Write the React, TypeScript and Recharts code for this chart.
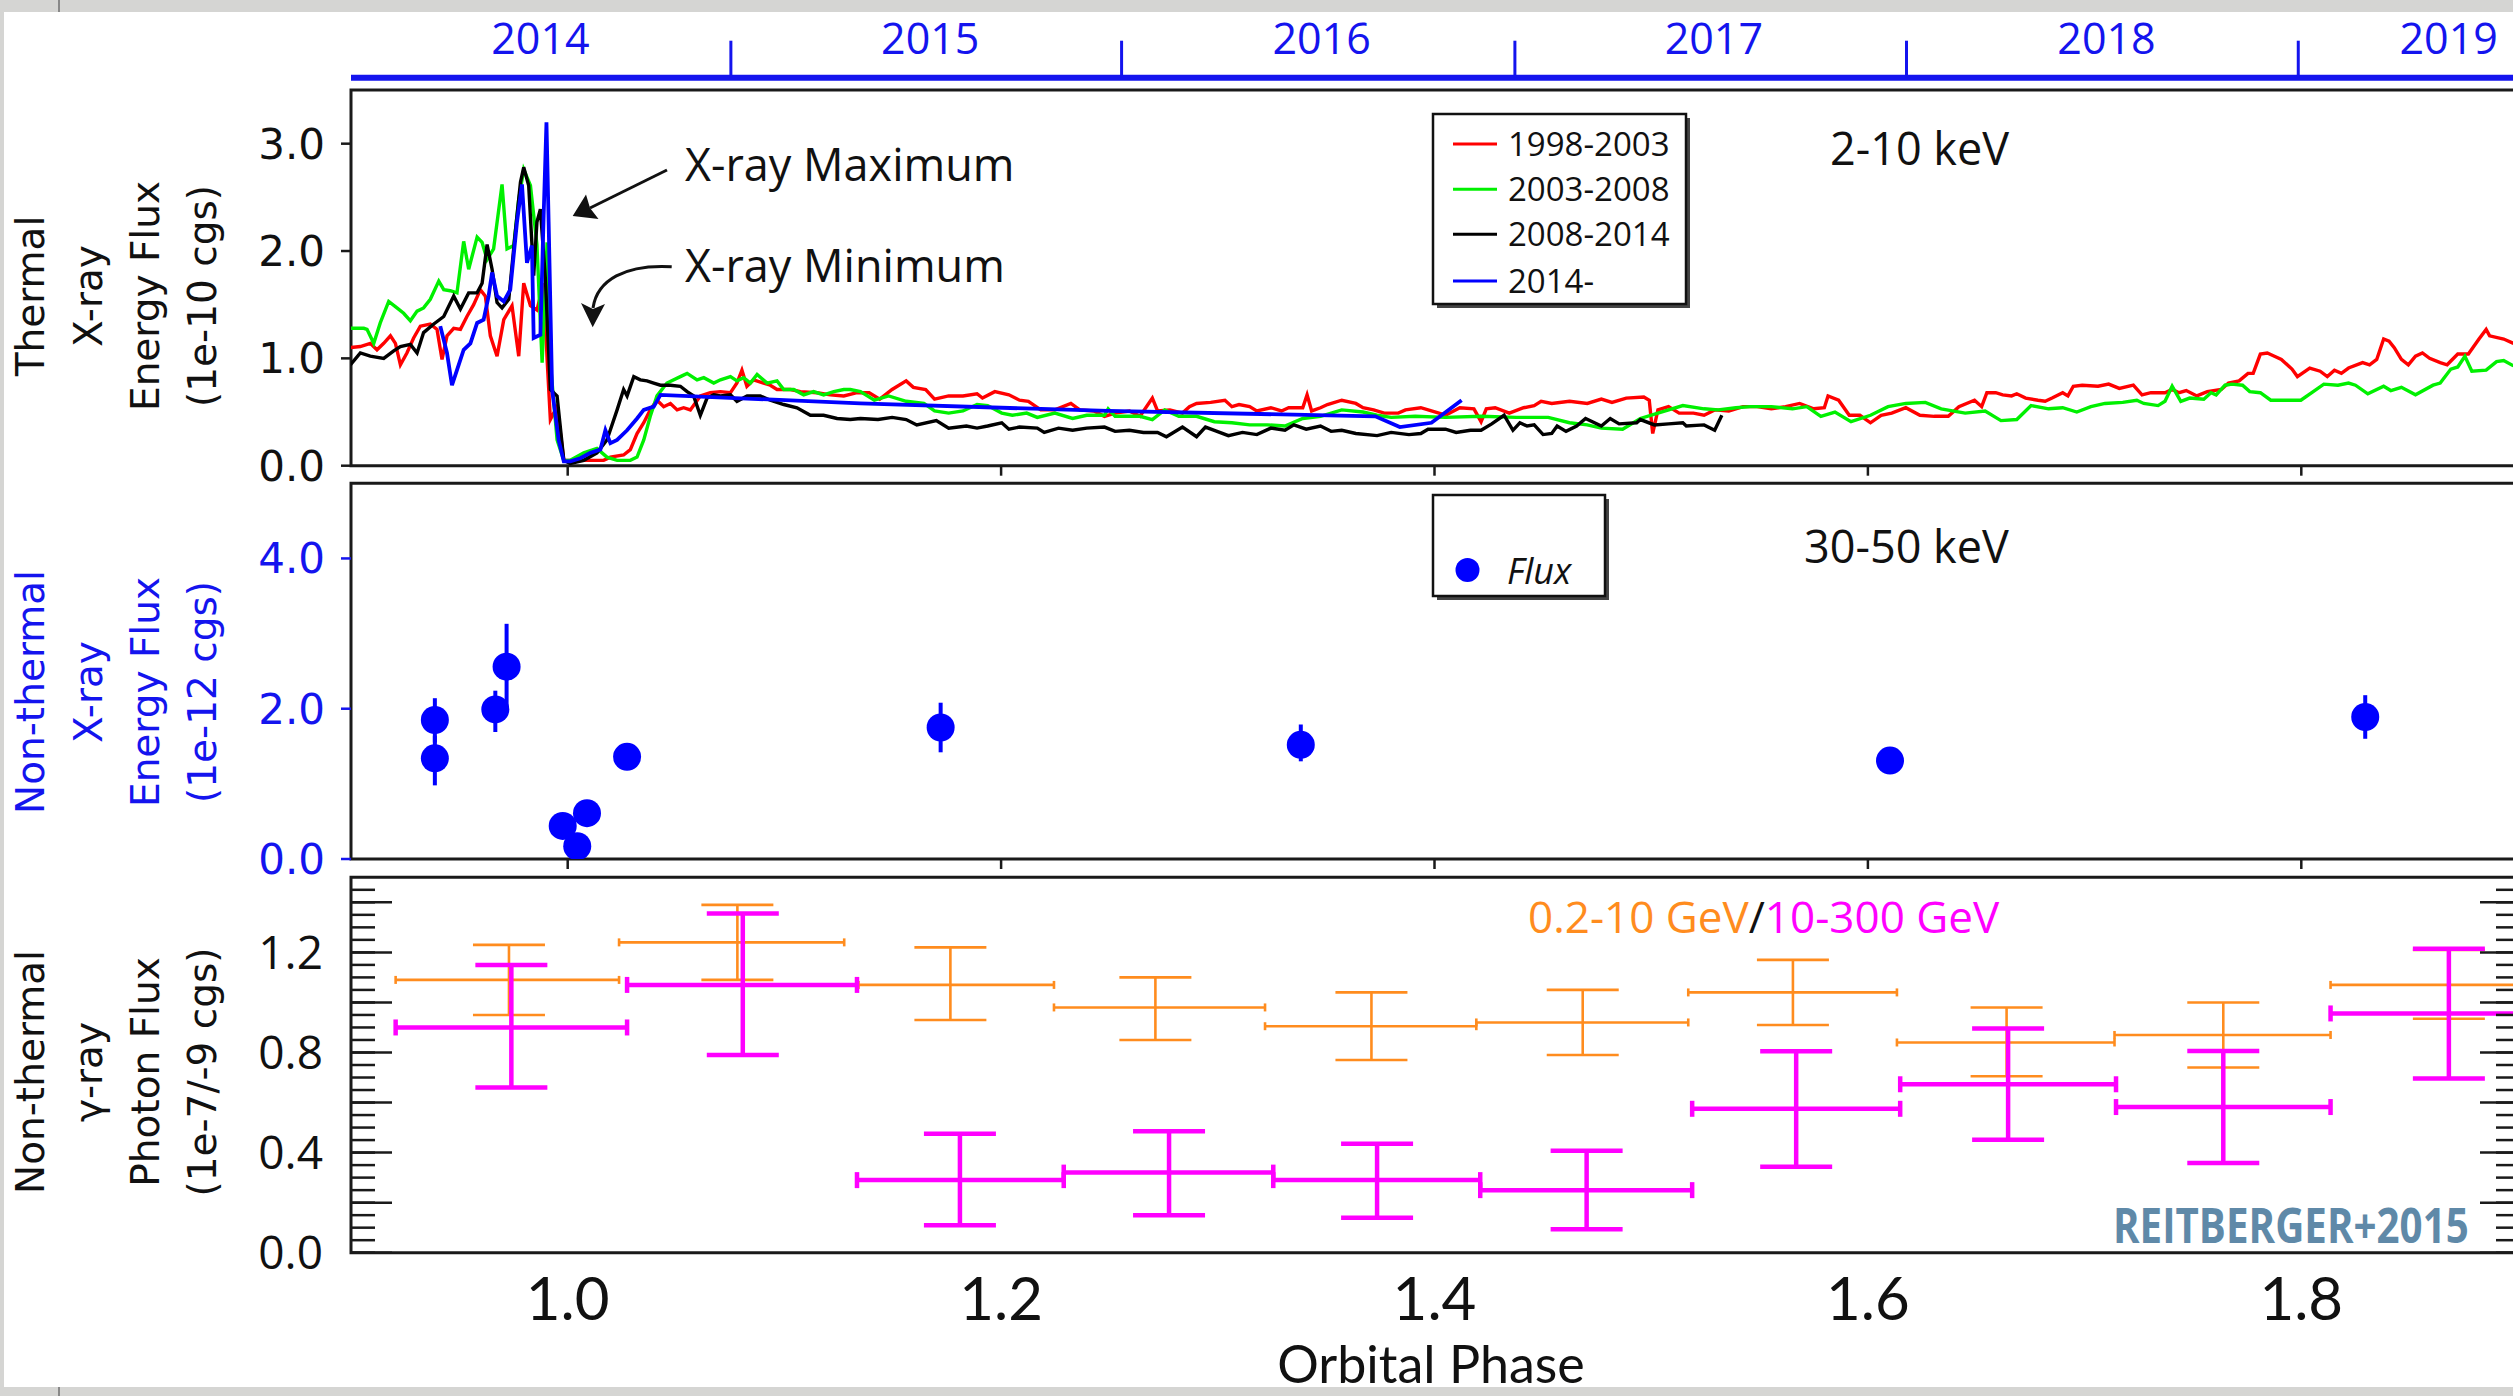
import React from 'react'
import {
  ComposedChart, ScatterChart, Line, Scatter, ErrorBar, XAxis, YAxis, ReferenceArea,
} from 'recharts'

// --- data (x = orbital phase) ---

const phaseDomain: [number, number] = [0.9, 1.9]
const phaseTicks = [1.0, 1.2, 1.4, 1.6, 1.8]
const phaseMinorTicks = [0.95, 1.0, 1.05, 1.1, 1.15, 1.2, 1.25, 1.3, 1.35, 1.4, 1.45, 1.5, 1.55, 1.6, 1.65, 1.7, 1.75, 1.8, 1.85]
const dayTicks = [0.9295, 0.979, 1.0284, 1.0779, 1.1274, 1.1769, 1.2264, 1.2759, 1.3254, 1.3749, 1.4244, 1.4739, 1.5234, 1.5729, 1.6224, 1.6719, 1.7214, 1.7709, 1.8204, 1.8699]
const dayMajorTicks = [1.0779, 1.3254, 1.5729, 1.8204]

const yearEdges = [1.0753, 1.2556, 1.4371, 1.6178, 1.7986]
const yearCenters = [0.9874, 1.1673, 1.3479, 1.5289, 1.7101, 1.868]
const yearNames = ['2014', '2015', '2016', '2017', '2018', '2019']

const thermalTicks = [0, 1, 2, 3]
const hardTicks = [0, 2, 4]
const gammaTicks = [0, 0.4, 0.8, 1.2]
const gammaMinor = [0, 0.05, 0.1, 0.15, 0.2, 0.25, 0.3, 0.35, 0.4, 0.45, 0.5, 0.55, 0.6, 0.65, 0.7, 0.75, 0.8, 0.85, 0.9, 0.95, 1.0, 1.05, 1.1, 1.15, 1.2, 1.25, 1.3, 1.35, 1.4, 1.45]
const gammaMajor = [0, 0.2, 0.4, 0.6, 0.8, 1.0, 1.2, 1.4]

// 2-10 keV flux, 1e-10 cgs: [phase, flux]
const cycle1998: [number, number][] = [
  [0.8997,1.10],[0.9043,1.11],[0.9089,1.14],[0.9120,1.08],[0.9151,1.14],[0.9182,1.21],[0.9205,1.14],[0.9228,0.94],[0.9258,1.05],[0.9289,1.19],[0.9320,1.30],[0.9366,1.32],[0.9397,1.27],[0.9420,0.99],[0.9443,1.21],[0.9474,1.28],[0.9505,1.27],[0.9535,1.39],[0.9566,1.50],[0.9597,1.64],[0.9620,1.58],[0.9643,1.21],[0.9674,1.02],[0.9705,1.36],[0.9743,1.49],[0.9774,1.02],[0.9797,1.70],[0.9828,1.49],[0.9858,1.45],[0.9889,1.70],[0.9905,0.99],[0.9920,0.43],[0.9951,0.55],[0.9982,0.05],[1.0074,0.05],[1.0166,0.05],[1.0197,0.08],[1.0258,0.10],[1.0289,0.15],[1.0320,0.30],[1.0351,0.40],[1.0381,0.52],[1.0412,0.61],[1.0443,0.55],[1.0474,0.58],[1.0505,0.52],[1.0535,0.54],[1.0566,0.52],[1.0612,0.65],[1.0658,0.68],[1.0705,0.69],[1.0751,0.68],[1.0781,0.77],[1.0804,0.89],[1.0827,0.74],[1.0858,0.80],[1.0904,0.77],[1.0935,0.75],[1.0966,0.71],[1.1028,0.71],[1.1074,0.69],[1.1151,0.68],[1.1212,0.66],[1.1274,0.65],[1.1335,0.68],
  [1.1391,0.68],[1.1440,0.62],[1.1497,0.71],[1.1562,0.79],[1.1595,0.73],[1.1652,0.71],[1.1693,0.62],[1.1758,0.65],[1.1824,0.65],[1.1889,0.67],[1.1914,0.63],[1.1971,0.69],[1.2036,0.66],[1.2085,0.61],[1.2126,0.60],[1.2183,0.52],[1.2248,0.52],[1.2322,0.58],[1.2363,0.52],[1.2428,0.51],[1.2477,0.46],[1.2526,0.49],[1.2592,0.51],[1.2641,0.46],[1.2698,0.63],[1.2722,0.51],[1.2779,0.52],[1.2837,0.49],[1.2869,0.55],[1.2902,0.58],[1.2967,0.59],[1.3033,0.61],[1.3065,0.55],[1.3098,0.57],[1.3147,0.55],[1.3180,0.51],[1.3245,0.54],[1.3294,0.51],[1.3327,0.54],[1.3392,0.54],[1.3412,0.66],[1.3433,0.51],[1.3474,0.54],[1.3506,0.57],[1.3572,0.61],[1.3637,0.58],[1.3670,0.54],[1.3719,0.52],[1.3768,0.49],[1.3833,0.49],[1.3866,0.52],
  [1.3937,0.54],[1.3986,0.51],[1.4051,0.47],[1.4117,0.54],[1.4182,0.53],[1.4215,0.41],[1.4239,0.53],[1.4280,0.54],[1.4345,0.49],[1.4411,0.54],[1.4460,0.56],[1.4492,0.60],[1.4541,0.58],[1.4623,0.60],[1.4705,0.58],[1.4770,0.62],[1.4819,0.59],[1.4885,0.63],[1.4966,0.64],[1.4991,0.61],[1.5007,0.30],[1.5031,0.52],[1.5080,0.55],[1.5129,0.49],[1.5195,0.49],[1.5244,0.47],[1.5293,0.52],[1.5358,0.51],[1.5424,0.55],[1.5489,0.55],[1.5554,0.53],[1.5620,0.55],[1.5685,0.58],[1.5750,0.53],[1.5799,0.54],[1.5816,0.65],[1.5865,0.61],[1.5914,0.47],[1.5963,0.47],[1.6012,0.40],[1.6061,0.47],[1.6110,0.49],[1.6175,0.54],[1.6240,0.47],[1.6306,0.46],[1.6371,0.46],[1.6420,0.55],
  [1.6492,0.61],[1.6525,0.55],[1.6549,0.68],[1.6590,0.68],[1.6622,0.66],[1.6663,0.65],[1.6687,0.67],[1.6728,0.63],[1.6785,0.61],[1.6818,0.60],[1.6850,0.63],[1.6899,0.68],[1.6923,0.65],[1.6948,0.74],[1.6989,0.75],[1.7062,0.74],[1.7111,0.76],[1.7160,0.72],[1.7225,0.75],[1.7265,0.66],[1.7306,0.68],[1.7371,0.68],[1.7404,0.71],[1.7436,0.68],[1.7469,0.70],[1.7518,0.65],[1.7566,0.69],[1.7631,0.71],[1.7664,0.77],[1.7713,0.79],[1.7754,0.86],[1.7778,0.86],[1.7811,1.04],[1.7843,1.05],[1.7876,1.02],[1.7908,0.99],[1.7957,0.90],[1.7982,0.83],[1.8039,0.91],[1.8087,0.88],[1.8120,0.83],[1.8153,0.89],[1.8185,0.86],[1.8218,0.91],[1.8283,0.96],[1.8315,0.94],[1.8348,0.99],[1.8380,1.18],[1.8405,1.16],[1.8429,1.10],[1.8462,0.99],[1.8494,0.94],[1.8527,1.02],[1.8559,1.05],[1.8592,1.00],[1.8641,0.96],[1.8673,0.94],[1.8722,1.04],[1.8771,1.04],[1.8820,1.18],[1.8853,1.27],[1.8869,1.21],[1.8934,1.18],[1.8979,1.14],
]

const cycle2003: [number, number][] = [
  [0.8997,1.28],[0.9059,1.28],[0.9074,1.27],[0.9105,1.14],[0.9135,1.33],[0.9174,1.53],[0.9212,1.47],[0.9243,1.42],[0.9274,1.35],[0.9305,1.44],[0.9335,1.47],[0.9366,1.55],[0.9405,1.72],[0.9428,1.64],[0.9458,1.63],[0.9489,1.61],[0.9520,2.09],[0.9543,1.83],[0.9582,2.13],[0.9605,2.08],[0.9628,1.92],[0.9658,2.02],[0.9697,2.62],[0.9720,2.02],[0.9751,2.05],[0.9774,2.48],[0.9797,2.76],[0.9828,2.61],[0.9858,2.06],[0.9882,0.96],[0.9905,2.08],[0.9920,0.96],[0.9951,0.24],[0.9982,0.05],[1.0012,0.05],[1.0074,0.12],[1.0135,0.16],[1.0181,0.08],[1.0228,0.05],[1.0289,0.05],[1.0320,0.08],[1.0351,0.24],[1.0381,0.46],[1.0412,0.65],[1.0458,0.77],[1.0520,0.83],[1.0551,0.86],[1.0597,0.80],[1.0628,0.82],[1.0674,0.77],[1.0705,0.80],[1.0751,0.83],[1.0781,0.79],[1.0812,0.82],[1.0843,0.77],[1.0874,0.85],[1.0920,0.77],[1.0966,0.79],[1.0997,0.71],[1.1043,0.71],[1.1089,0.66],[1.1135,0.69],[1.1181,0.66],[1.1228,0.69],[1.1274,0.71],[1.1304,0.71],[1.1351,0.69],
  [1.1415,0.61],[1.1481,0.65],[1.1562,0.60],[1.1644,0.58],[1.1693,0.51],[1.1758,0.49],[1.1824,0.51],[1.1889,0.57],[1.1938,0.56],[1.2003,0.49],[1.2052,0.47],[1.2118,0.49],[1.2167,0.45],[1.2248,0.49],[1.2330,0.44],[1.2395,0.47],[1.2477,0.47],[1.2494,0.53],[1.2526,0.46],[1.2641,0.46],[1.2698,0.43],[1.2755,0.52],[1.2820,0.46],[1.2902,0.46],[1.2984,0.41],[1.3065,0.40],[1.3147,0.38],[1.3229,0.38],[1.3310,0.37],[1.3392,0.44],[1.3474,0.46],[1.3572,0.52],[1.3670,0.50],[1.3735,0.47],[1.3800,0.45],[1.3911,0.46],
  [1.4051,0.45],[1.4215,0.46],[1.4378,0.45],[1.4525,0.45],[1.4623,0.40],[1.4705,0.38],[1.4770,0.35],[1.4868,0.34],[1.4950,0.44],[1.5031,0.49],[1.5146,0.56],[1.5244,0.53],[1.5309,0.52],[1.5391,0.54],[1.5456,0.55],[1.5554,0.55],[1.5652,0.53],[1.5718,0.55],[1.5783,0.46],[1.5848,0.50],[1.5922,0.41],[1.6012,0.47],[1.6093,0.55],[1.6175,0.58],[1.6265,0.59],[1.6338,0.53],[1.6449,0.49],
  [1.6541,0.51],[1.6614,0.42],[1.6687,0.43],[1.6753,0.56],[1.6834,0.53],[1.6899,0.54],[1.6964,0.50],[1.7029,0.55],[1.7094,0.58],[1.7176,0.59],[1.7241,0.61],[1.7273,0.58],[1.7339,0.56],[1.7371,0.60],[1.7404,0.74],[1.7444,0.60],[1.7485,0.63],[1.7550,0.62],[1.7583,0.68],[1.7607,0.66],[1.7648,0.75],[1.7680,0.76],[1.7729,0.75],[1.7762,0.69],[1.7811,0.68],[1.7859,0.61],[1.7925,0.61],[1.7998,0.61],[1.8055,0.69],[1.8104,0.76],[1.8169,0.75],[1.8218,0.77],[1.8250,0.75],[1.8307,0.67],[1.8380,0.74],[1.8413,0.70],[1.8462,0.73],[1.8527,0.66],[1.8608,0.75],[1.8641,0.77],[1.8690,0.90],[1.8722,0.92],[1.8755,1.02],[1.8787,0.88],[1.8853,0.89],[1.8901,0.97],[1.8934,0.98],[1.8979,0.93],
]

const cycle2008: [number, number][] = [
  [0.8997,0.94],[0.9043,1.05],[0.9089,1.02],[0.9151,1.00],[0.9197,1.07],[0.9228,1.11],[0.9274,1.13],[0.9305,1.05],[0.9335,1.24],[0.9382,1.32],[0.9428,1.39],[0.9474,1.58],[0.9505,1.46],[0.9543,1.61],[0.9582,1.61],[0.9605,1.70],[0.9628,2.06],[0.9651,1.83],[0.9674,1.52],[0.9697,1.47],[0.9728,1.55],[0.9758,2.17],[0.9782,2.64],[0.9797,2.78],[0.9820,2.61],[0.9843,1.77],[0.9858,2.27],[0.9874,2.39],[0.9897,1.74],[0.9920,0.71],[0.9951,0.65],[0.9982,0.05],[1.0012,0.02],[1.0074,0.05],[1.0135,0.12],[1.0181,0.24],[1.0228,0.52],[1.0258,0.71],[1.0274,0.65],[1.0305,0.83],[1.0335,0.80],[1.0366,0.79],[1.0397,0.77],[1.0428,0.75],[1.0474,0.75],[1.0520,0.74],[1.0551,0.69],[1.0581,0.65],[1.0612,0.47],[1.0643,0.63],[1.0674,0.66],[1.0705,0.65],[1.0751,0.66],[1.0781,0.60],[1.0828,0.65],[1.0889,0.65],[1.0935,0.61],[1.0997,0.57],[1.1058,0.54],[1.1120,0.47],[1.1181,0.47],[1.1243,0.44],[1.1304,0.43],[1.1351,0.44],
  [1.1432,0.43],[1.1497,0.45],[1.1562,0.43],[1.1611,0.38],[1.1701,0.42],[1.1758,0.35],[1.1840,0.37],[1.1889,0.35],[1.1938,0.37],[1.2003,0.40],[1.2036,0.34],[1.2085,0.36],[1.2167,0.35],[1.2199,0.31],[1.2265,0.35],[1.2330,0.33],[1.2395,0.35],[1.2477,0.36],[1.2526,0.32],[1.2592,0.33],[1.2657,0.31],[1.2722,0.31],[1.2763,0.27],[1.2837,0.36],[1.2902,0.27],[1.2943,0.36],[1.2984,0.33],[1.3049,0.28],[1.3114,0.31],[1.3180,0.29],[1.3245,0.35],[1.3310,0.33],[1.3351,0.38],[1.3408,0.34],[1.3474,0.37],[1.3523,0.32],[1.3572,0.33],[1.3637,0.30],[1.3735,0.28],[1.3800,0.31],[1.3882,0.29],
  [1.3937,0.30],[1.3970,0.34],[1.4051,0.34],[1.4100,0.31],[1.4166,0.33],[1.4215,0.33],[1.4264,0.39],[1.4321,0.47],[1.4362,0.33],[1.4394,0.40],[1.4427,0.37],[1.4460,0.38],[1.4501,0.29],[1.4541,0.30],[1.4566,0.37],[1.4607,0.32],[1.4656,0.37],[1.4697,0.44],[1.4770,0.37],[1.4811,0.44],[1.4852,0.39],[1.4933,0.40],[1.4950,0.43],[1.5015,0.38],[1.5080,0.39],[1.5146,0.40],[1.5162,0.37],[1.5244,0.38],[1.5293,0.33],[1.5326,0.47],
]

const cycle2014: [number, number][] = [
  [0.9412,1.30],[0.9443,1.05],[0.9466,0.75],[0.9489,0.89],[0.9520,1.08],[0.9551,1.14],[0.9582,1.33],[0.9612,1.36],[0.9635,1.58],[0.9651,1.80],[0.9674,1.58],[0.9705,1.53],[0.9735,1.64],[0.9766,2.27],[0.9789,2.62],[0.9812,1.89],[0.9835,2.05],[0.9843,1.19],[0.9874,1.22],[0.9889,2.33],[0.9902,3.20],[0.9912,2.27],[0.9928,0.71],[0.9958,0.24],[0.9982,0.04],[1.0012,0.04],[1.0058,0.07],[1.0105,0.12],[1.0151,0.15],[1.0174,0.33],[1.0197,0.21],[1.0228,0.24],[1.0274,0.33],[1.0320,0.44],[1.0351,0.52],[1.0397,0.55],[1.0428,0.66],[1.1350,0.58],[1.2494,0.51],[1.3727,0.46],[1.3840,0.36],[1.3986,0.40],[1.4125,0.61],
]

// 30-50 keV flux, 1e-12 cgs: [phase, flux, errDown, errUp]
const hardXray: [number, number, number, number][] = [
  [0.9387, 1.85, 0.30, 0.29],
  [0.9387, 1.34, 0.36, 0.30],
  [0.9666, 1.99, 0.30, 0.25],
  [0.9718, 2.56, 0.55, 0.57],
  [0.9977, 0.44, 0.10, 0.10],
  [1.0044, 0.17, 0.10, 0.10],
  [1.0089, 0.61, 0.10, 0.10],
  [1.0274, 1.36, 0.10, 0.10],
  [1.1721, 1.75, 0.33, 0.33],
  [1.3383, 1.52, 0.22, 0.27],
  [1.6102, 1.31, 0.15, 0.15],
  [1.8295, 1.89, 0.29, 0.29],
]

// gamma-ray bins: [phaseCenter, phaseStart, phaseEnd, flux, fluxLow, fluxHigh]
const gevLow: number[][] = [
  [0.9729, 0.9206, 1.0237, 1.09, 0.95, 1.23],
  [1.0783, 1.0237, 1.1276, 1.24, 1.09, 1.39],
  [1.1766, 1.1342, 1.2244, 1.07, 0.93, 1.22],
  [1.2712, 1.2244, 1.3218, 0.98, 0.85, 1.10],
  [1.3709, 1.3218, 1.4193, 0.905, 0.77, 1.04],
  [1.4684, 1.4193, 1.5171, 0.92, 0.79, 1.05],
  [1.5654, 1.5171, 1.6134, 1.04, 0.91, 1.17],
  [1.6640, 1.6134, 1.7138, 0.84, 0.705, 0.98],
  [1.7640, 1.7138, 1.8135, 0.87, 0.74, 1.00],
  [1.8681, 1.8135, 1.9110, 1.07, 0.935, 1.21],
]
const gevHigh: number[][] = [
  [0.9740, 0.9206, 1.0274, 0.90, 0.66, 1.15],
  [1.0808, 1.0274, 1.1335, 1.07, 0.79, 1.355],
  [1.1810, 1.1335, 1.2289, 0.29, 0.11, 0.475],
  [1.2775, 1.2289, 1.3256, 0.32, 0.15, 0.485],
  [1.3735, 1.3256, 1.4211, 0.29, 0.14, 0.435],
  [1.4702, 1.4211, 1.5189, 0.25, 0.094, 0.407],
  [1.5669, 1.5189, 1.6149, 0.575, 0.343, 0.805],
  [1.6647, 1.6149, 1.7145, 0.673, 0.451, 0.896],
  [1.7640, 1.7145, 1.8135, 0.582, 0.358, 0.806],
  [1.8681, 1.8135, 1.9110, 0.956, 0.696, 1.215],
]

// --- styling ---
const RED = '#ff0000'
const GREEN = '#00f000'
const BLACK = '#000000'
const BLUE = '#0000ff'
const AXIS_BLUE = '#1414ee'
const ORANGE = '#ff8c1e'
const MAGENTA = '#ff00ff'
const FRAME = '#1a1a1a'
const OPEN = "'Open Sans', sans-serif"
const LATO = "Lato, sans-serif"
const DEJA = "'DejaVu Sans', sans-serif"

const W = 2520
const MARGIN_X = { left: 350, right: 2 }
const fmt1 = (v: number) => v.toFixed(1)
const toPts = (arr: [number, number][]) => arr.map(([x, y]) => ({ x, y }))
const toBins = (arr: number[][]) => arr.map(([c, lo, hi, v, fl, fh]) => ({
  x: c, y: v, ex: [c - lo, hi - c], ey: [v - fl, fh - v],
}))

const seriesTop = [
  { name: '1998-2003', color: RED, data: toPts(cycle1998) },
  { name: '2003-2008', color: GREEN, data: toPts(cycle2003) },
  { name: '2008-2014', color: BLACK, data: toPts(cycle2008) },
  { name: '2014-', color: BLUE, data: toPts(cycle2014) },
]
const hardPts = hardXray.map(([x, y, lo, hi]) => ({ x, y, ey: [lo, hi] }))

function YearTick(props: any) {
  const { x, y, payload } = props
  const i = yearCenters.indexOf(payload.value)
  if (i >= 0) {
    return <text x={x} y={y - 24} textAnchor="middle" fontFamily={OPEN} fontSize={43} fill={AXIS_BLUE}>{yearNames[i]}</text>
  }
  return <line x1={x} y1={y} x2={x} y2={y - 37} stroke={AXIS_BLUE} strokeWidth={3} />
}

const tickLineBlack = { stroke: FRAME, strokeWidth: 2.5 }
// tick marks only, no label (tick={false} would drop the marks too)
const noLabel = () => <g />
const emptyShape = () => <g />
const dotShape = (p: any) => <circle cx={p.cx} cy={p.cy} r={14} fill={BLUE} />

function TopPanel() {
  return (
    <ComposedChart width={W} height={490} margin={{ top: 0, bottom: 12, ...MARGIN_X }}>
      <XAxis xAxisId="yr" orientation="top" type="number" dataKey="x" domain={phaseDomain} allowDataOverflow
        ticks={[...yearEdges, ...yearCenters]} interval={0} height={77.7} tickLine={false} tickSize={0} tickMargin={0}
        axisLine={{ stroke: AXIS_BLUE, strokeWidth: 6 }} tick={YearTick} />
      <XAxis xAxisId="ph" type="number" dataKey="x" domain={phaseDomain} allowDataOverflow ticks={phaseTicks}
        interval={0} height={12.3} tick={noLabel} tickSize={10} tickLine={tickLineBlack} axisLine={false} />
      <YAxis yAxisId="f" type="number" dataKey="y" domain={[0, 3.6147]} allowDataOverflow ticks={thermalTicks}
        interval={0} width={1} axisLine={false} tickSize={10} tickMargin={16} tickLine={tickLineBlack}
        tick={{ fontSize: 42, fontFamily: DEJA, fill: '#111' }} tickFormatter={fmt1} />
      {seriesTop.map(s => (
        <Line key={s.name} xAxisId="ph" yAxisId="f" data={s.data} dataKey="y" type="linear" dot={false}
          stroke={s.color} strokeWidth={s.color === BLUE ? 3.8 : 3.4} isAnimationActive={false} />
      ))}
      <ReferenceArea xAxisId="ph" yAxisId="f" x1={0.9} x2={1.9} y1={0} y2={3.5} fill="none" stroke={FRAME} strokeWidth={3} />
    </ComposedChart>
  )
}

function MiddlePanel() {
  return (
    <ScatterChart width={W} height={415} margin={{ top: 13.3, bottom: 16, ...MARGIN_X }}>
      <XAxis xAxisId="ph" type="number" dataKey="x" domain={phaseDomain} allowDataOverflow ticks={phaseTicks}
        interval={0} height={10} tick={noLabel} tickSize={10} tickLine={tickLineBlack} axisLine={false} />
      <YAxis yAxisId="f" type="number" dataKey="y" domain={[0, 5]} allowDataOverflow ticks={hardTicks}
        interval={0} width={1} axisLine={false} tickSize={10} tickMargin={16}
        tickLine={{ stroke: AXIS_BLUE, strokeWidth: 2.5 }}
        tick={{ fontSize: 42, fontFamily: DEJA, fill: AXIS_BLUE }} tickFormatter={fmt1} />
      <Scatter xAxisId="ph" yAxisId="f" data={hardPts} fill={BLUE} shape={dotShape} isAnimationActive={false}>
        <ErrorBar dataKey="ey" direction="y" width={0} stroke={BLUE} strokeWidth={4} isAnimationActive={false} />
      </Scatter>
      <ReferenceArea xAxisId="ph" yAxisId="f" x1={0.9} x2={1.9} y1={0} y2={5} fill="none" stroke={FRAME} strokeWidth={3} />
    </ScatterChart>
  )
}

function BottomPanel() {
  const marks = { tick: noLabel, axisLine: false, interval: 0 as const, tickLine: tickLineBlack }
  return (
    <ScatterChart width={W} height={526} margin={{ top: 7.3, bottom: 142.3, ...MARGIN_X }}>
      <XAxis xAxisId="ph" type="number" dataKey="x" domain={phaseDomain} allowDataOverflow ticks={phaseTicks}
        interval={0} height={1} tickLine={false} tickSize={0} tickMargin={25} axisLine={false}
        tick={{ fontSize: 60, fontFamily: LATO, fill: '#111' }} tickFormatter={fmt1} />
      <XAxis xAxisId="phMinor" type="number" domain={phaseDomain} allowDataOverflow ticks={phaseMinorTicks}
        mirror height={1} tickSize={7} {...marks} />
      <XAxis xAxisId="phMajor" type="number" domain={phaseDomain} allowDataOverflow ticks={phaseTicks}
        mirror height={1} tickSize={12} {...marks} />
      <XAxis xAxisId="day" orientation="top" type="number" domain={phaseDomain} allowDataOverflow ticks={dayTicks}
        mirror height={1} tickSize={8} {...marks} />
      <XAxis xAxisId="dayMajor" orientation="top" type="number" domain={phaseDomain} allowDataOverflow ticks={dayMajorTicks}
        mirror height={1} tickSize={11} {...marks} />
      <YAxis yAxisId="f" type="number" dataKey="y" domain={[0, 1.5]} allowDataOverflow ticks={gammaTicks}
        interval={0} width={1} axisLine={false} tickLine={false} tickSize={0} tickMargin={28}
        tick={{ fontSize: 46, fontFamily: OPEN, fill: '#111' }} tickFormatter={fmt1} />
      <YAxis yAxisId="lMinor" type="number" domain={[0, 1.5]} allowDataOverflow ticks={gammaMinor}
        mirror width={1} tickSize={23} {...marks} />
      <YAxis yAxisId="lMajor" type="number" domain={[0, 1.5]} allowDataOverflow ticks={gammaMajor}
        mirror width={1} tickSize={41} {...marks} />
      <YAxis yAxisId="rMinor" orientation="right" type="number" domain={[0, 1.5]} allowDataOverflow ticks={gammaMinor}
        mirror width={1} tickSize={21} {...marks} />
      <YAxis yAxisId="rMajor" orientation="right" type="number" domain={[0, 1.5]} allowDataOverflow ticks={gammaMajor}
        mirror width={1} tickSize={38} {...marks} />
      <Scatter xAxisId="ph" yAxisId="f" data={toBins(gevLow)} shape={emptyShape} isAnimationActive={false}>
        <ErrorBar dataKey="ex" direction="x" width={4} stroke={ORANGE} strokeWidth={2.6} isAnimationActive={false} />
        <ErrorBar dataKey="ey" direction="y" width={36} stroke={ORANGE} strokeWidth={2.6} isAnimationActive={false} />
      </Scatter>
      <Scatter xAxisId="ph" yAxisId="f" data={toBins(gevHigh)} shape={emptyShape} isAnimationActive={false}>
        <ErrorBar dataKey="ex" direction="x" width={8} stroke={MAGENTA} strokeWidth={4.5} isAnimationActive={false} />
        <ErrorBar dataKey="ey" direction="y" width={36} stroke={MAGENTA} strokeWidth={4.5} isAnimationActive={false} />
      </Scatter>
      <ReferenceArea xAxisId="ph" yAxisId="f" x1={0.9} x2={1.9} y1={0} y2={1.5} fill="none" stroke={FRAME} strokeWidth={3} />
    </ScatterChart>
  )
}

const titleX = [30, 88, 145, 202]
function AxisTitle({ lines, cy, color }: { lines: string[]; cy: number; color: string }) {
  return (
    <g>
      {lines.map((t, i) => (
        <text key={t} transform={`translate(${titleX[i]},${cy}) rotate(-90)`} textAnchor="middle"
          dominantBaseline="central" fontFamily={DEJA} fontSize={39} fill={color}>{t}</text>
      ))}
    </g>
  )
}

function Overlay() {
  const legendY = [144, 189.3, 234.3, 281]
  return (
    <svg width={2513} height={1396} style={{ position: 'absolute', left: 0, top: 0, pointerEvents: 'none' }}>
      <AxisTitle lines={['Thermal', 'X-ray', 'Energy Flux', '(1e-10 cgs)']} cy={296} color="#111" />
      <AxisTitle lines={['Non-thermal', 'X-ray', 'Energy Flux', '(1e-12 cgs)']} cy={692} color={AXIS_BLUE} />
      <AxisTitle lines={['Non-thermal', 'γ-ray', 'Photon Flux', '(1e-7/-9 cgs)']} cy={1072} color="#111" />

      {/* annotations */}
      <text x={685} y={181} fontFamily={OPEN} fontSize={45} fill="#111">X-ray Maximum</text>
      <text x={685} y={282} fontFamily={OPEN} fontSize={45} fill="#111">X-ray Minimum</text>
      <line x1={667} y1={170} x2={590} y2={208} stroke="#111" strokeWidth={3} />
      <polygon points="572.7,216 586,194.5 590,208 598.5,219" fill="#111" />
      <path d="M 671.7 266.7 C 625 264, 597 280, 593 308" fill="none" stroke="#111" strokeWidth={3} />
      <polygon points="592.7,327.3 581,303 593,309 605,304" fill="#111" />

      {/* thermal legend */}
      <rect x={1437} y={118} width={253} height={190} fill="#444" />
      <rect x={1433} y={114} width={253} height={190} fill="#fff" stroke="#111" strokeWidth={2.5} />
      {seriesTop.map((s, i) => (
        <g key={s.name}>
          <line x1={1453} x2={1497} y1={legendY[i]} y2={legendY[i]} stroke={s.color} strokeWidth={3} />
          <text x={1508} y={legendY[i] + 12} fontFamily={OPEN} fontSize={33} fill="#111">{s.name}</text>
        </g>
      ))}
      <text x={1830} y={165} fontFamily={OPEN} fontSize={45} fill="#111">2-10 keV</text>

      {/* hard x-ray legend */}
      <rect x={1437} y={499} width={172} height={101} fill="#444" />
      <rect x={1433} y={495} width={172} height={101} fill="#fff" stroke="#111" strokeWidth={2.5} />
      <circle cx={1467.5} cy={570} r={12} fill={BLUE} />
      <text x={1507} y={584} fontFamily={OPEN} fontStyle="italic" fontSize={36} fill="#111">Flux</text>
      <text x={1804} y={563} fontFamily={OPEN} fontSize={45} fill="#111">30-50 keV</text>

      {/* gamma labels */}
      <text x={1528} y={933} fontFamily={OPEN} fontSize={44}>
        <tspan fill={ORANGE}>0.2-10 GeV</tspan>
        <tspan fill="#111">/</tspan>
        <tspan fill={MAGENTA}>10-300 GeV</tspan>
      </text>
      <text transform="translate(2113,1243) scale(0.84,1)" fontFamily={OPEN} fontWeight={700} fontSize={48}
        fill="#5f89a8">REITBERGER+2015</text>
      <text x={1431} y={1383} textAnchor="middle" fontFamily={LATO} fontSize={52} fill="#111">Orbital Phase</text>
    </svg>
  )
}

export default function App() {
  return (
    <div style={{ position: 'absolute', left: 0, top: 0, width: 2513, height: 1396, overflow: 'hidden', background: '#d5d5d3' }}>
      <div style={{ position: 'absolute', left: 4, top: 12, width: 2509, height: 1375, background: '#fff' }} />
      <div style={{ position: 'absolute', left: 58, top: 0, width: 2, height: 12, background: '#888' }} />
      <div style={{ position: 'absolute', left: 58, top: 1387, width: 2, height: 9, background: '#888' }} />
      <div style={{ position: 'absolute', left: 0, top: 0 }}><TopPanel /></div>
      <div style={{ position: 'absolute', left: 0, top: 470 }}><MiddlePanel /></div>
      <div style={{ position: 'absolute', left: 0, top: 870 }}><BottomPanel /></div>
      <Overlay />
    </div>
  )
}
